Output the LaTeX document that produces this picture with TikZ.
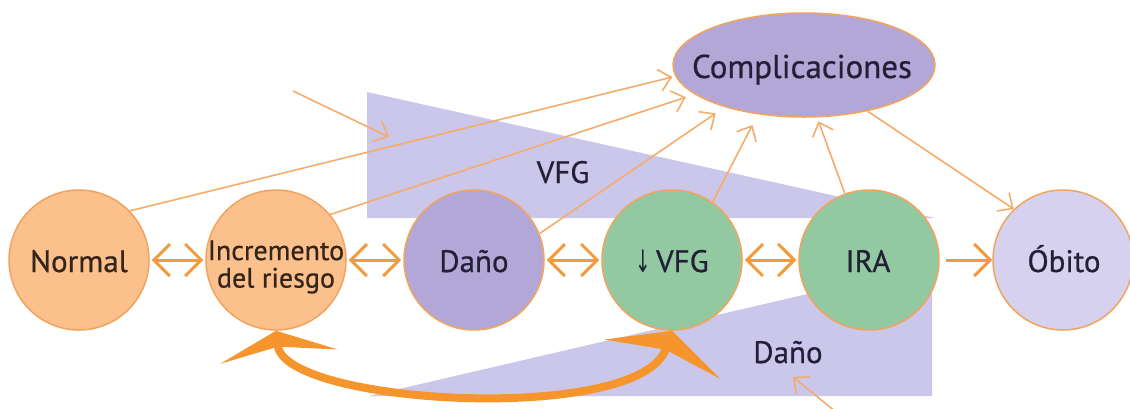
\documentclass[tikz,border=0pt]{standalone}
\usepackage{graphicx}
\usepackage{fontspec}
\setmainfont{PT Sans}[FakeBold=0.6]
\newfontfamily\symfont{DejaVu Sans}
\usetikzlibrary{arrows.meta,shapes.geometric}
\definecolor{orfill}{HTML}{FBC08C}
\definecolor{orline}{HTML}{F2A35C}
\definecolor{purp}{HTML}{B3A7D8}
\definecolor{grn}{HTML}{93C9A1}
\definecolor{lav}{HTML}{D5D1EE}
\definecolor{tri}{HTML}{CBC7EA}
\definecolor{arr}{HTML}{F39A3E}
\definecolor{bigarr}{HTML}{F5952C}
\definecolor{thinarr}{HTML}{F5AC6B}
\definecolor{txt}{HTML}{221F36}
\definecolor{txtor}{HTML}{33251A}
\begin{document}
\begin{tikzpicture}[x=1pt,y=-1pt,
  stage/.style={circle, draw=orline, line width=1.5pt, minimum size=140pt, inner sep=0pt},
  lbl/.style={font=\fontsize{31}{31}\selectfont, text=txt, anchor=base, inner sep=0pt},
  link/.style={draw=arr, line width=3pt, shorten <=2pt, shorten >=2pt,
    {Straight Barb[length=16pt,width=32pt]}-{Straight Barb[length=16pt,width=32pt]}},
  oneway/.style={draw=arr, line width=3pt, -{Straight Barb[length=16pt,width=32pt]}},
  feed/.style={draw=thinarr, line width=1.6pt, -{Straight Barb[length=12pt,width=22pt]}}
]
\useasboundingbox (0,0) rectangle (1130,408);
% background wedges
\fill[tri] (367,92) -- (367,218) -- (935,218) -- cycle;
\fill[tri] (369,396) -- (932,396) -- (932,265) -- cycle;

% nodes
\node[stage, fill=orfill] (normal) at (79,260) {};
\node[stage, fill=orfill] (inc) at (276,260) {};
\node[stage, fill=purp] (dano) at (474,260) {};
\node[stage, fill=grn] (vfg) at (672,260) {};
\node[stage, fill=grn] (ira) at (869,260) {};
\node[stage, fill=lav] (obito) at (1063,260) {};
\node[ellipse, draw=orline, line width=1.5pt, fill=purp, minimum width=262pt, minimum height=104pt, inner sep=0pt] (comp) at (804,65) {};

% thin feeds to Complicaciones
\draw[feed, shorten >=3pt] (normal.44) -- (comp.185);
\draw[feed, shorten >=9pt] (inc.40) -- (comp.195);
\draw[feed, shorten >=11pt] (dano.22) -- (comp.208);
\draw[feed, shorten >=12pt] (vfg.55) -- (comp.227);
\draw[feed, shorten >=4pt] (ira.110) -- (comp.284);
\draw[feed] (comp.324) -- (obito.134);

% free arrows
\coordinate (upS) at (293,91);
\coordinate (upE) at (389,137);
\coordinate (loS) at (836,412);
\coordinate (loE) at (793,377);
\draw[feed] (upS) -- (upE);
\draw[feed] (loS) -- (loE);

% horizontal links
\draw[link] (normal.east) -- (inc.west);
\draw[link] (inc.east) -- (dano.west);
\draw[link] (dano.east) -- (vfg.west);
\draw[link] (vfg.east) -- (ira.west);
\draw[oneway, shorten <=6pt] (ira.east) -- (obito.west);

% big curved feedback arrow
\draw[bigarr, line width=8pt,
  {Stealth[length=26pt,width=118pt,inset=10pt]}-{Stealth[length=30pt,width=122pt,inset=10pt]}]
  (inc.south) .. controls (285,405) and (640,425) .. (vfg.south);

% labels
\node[lbl, text=txtor] (tnormal) at (79,272) {Normal};
\node[lbl, text=txtor, anchor=center, align=center, font=\fontsize{28}{27.5}\selectfont] (tinc) at (276,267) {Incremento\\del riesgo};
\node[lbl] (tdano) at (474,272) {Daño};
\node[lbl] (tvfg) at (672,272) {{\symfont\scalebox{0.6}[1]{↓}}\,VFG};
\node[lbl] (tira) at (868,272) {IRA};
\node[lbl] (tobito) at (1064,272) {Óbito};
\node[lbl, font=\fontsize{33}{33}\selectfont] (tcomp) at (802,78) {Complicaciones};
\node[lbl] (tvfgup) at (563,183) {VFG};
\node[lbl] (tdanolo) at (788,363) {Daño};
\end{tikzpicture}
\end{document}
